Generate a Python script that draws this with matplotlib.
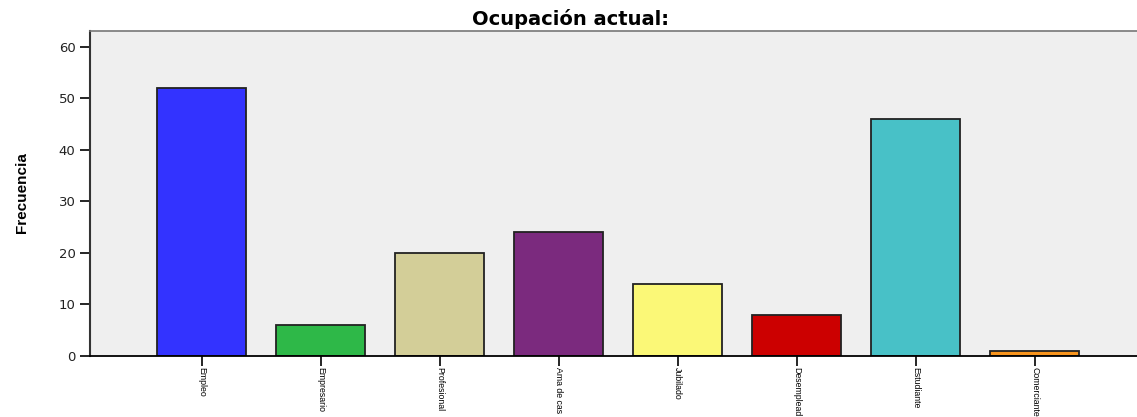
import matplotlib.pyplot as plt
import numpy as np

# Data
categories = ['Empleo', 'Empresario', 'Profesional', 'Ama de cas', 'Jubilado',
              'Desemplead', 'Estudiante', 'Comerciante']
frecuencia = [52, 6, 20, 24, 14, 8, 46, 1]
colors = ['#3333FF', '#2EB848', '#D3CE98', '#7B2A7E', '#FBF877',
          '#CC0000', '#48C1C7', '#F7941D']
yticks = [0, 10, 20, 30, 40, 50, 60]

W, H = 1137, 417
fig = plt.figure(figsize=(W / 100, H / 100), dpi=100)
ax = fig.add_axes([90 / W, (H - 356) / H, (W - 90) / W, (356 - 31) / H])
ax.set_facecolor('#EFEFEF')

x = np.arange(len(categories))
ax.bar(x, frecuencia, width=0.75, color=colors, edgecolor='#222222', linewidth=1.3, zorder=2)

ax.set_xlim(-0.94, 7.86)
ax.set_ylim(0, 63.1)
ax.set_yticks(yticks)
ax.set_yticklabels([str(t) for t in yticks], fontsize=9.5, family='DejaVu Sans', color='#222222')
ax.set_xticks(x)
ax.set_xticklabels(categories, rotation=270, fontsize=6.3, family='Liberation Sans',
                   va='top', ha='center')
ax.tick_params(axis='both', direction='out', length=7, width=1.2, color='black')
ax.tick_params(axis='x', pad=1)

ax.spines['left'].set_color('#333333')
ax.spines['left'].set_linewidth(1.5)
ax.spines['bottom'].set_color('black')
ax.spines['bottom'].set_linewidth(1.3)
ax.spines['top'].set_color('#777777')
ax.spines['top'].set_linewidth(1.2)
ax.spines['right'].set_visible(False)

fig.text(22 / W, 1 - 193 / H, 'Frecuencia', rotation=90, ha='center', va='center',
         fontsize=11, fontweight='bold', family='Liberation Sans')
fig.text(571 / W, 1 - 19 / H, 'Ocupación actual:', ha='center', va='center',
         fontsize=14, fontweight='bold', family='DejaVu Sans')

fig.savefig('out.png', dpi=100)
